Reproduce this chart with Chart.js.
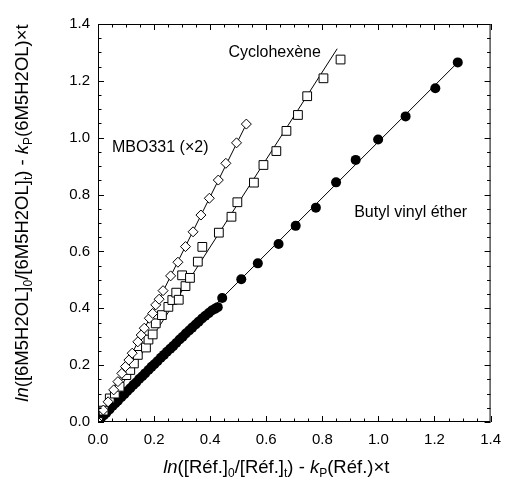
<!DOCTYPE html>
<html>
<head>
<meta charset="utf-8">
<script src="https://cdn.jsdelivr.net/npm/chart.js@4/dist/chart.umd.min.js"></script>
<style>
  body { margin: 0; background: #fff; }
</style>
</head>
<body>
<canvas id="chart" width="510" height="484"></canvas>
<script>
// Butyl vinyl éther (filled circles)
const butylX = [0.000, 0.010, 0.021, 0.030, 0.041, 0.052, 0.062, 0.071, 0.083, 0.094, 0.104, 0.115, 0.126, 0.136,
  0.147, 0.158, 0.168, 0.180, 0.191, 0.201, 0.212, 0.224, 0.235, 0.246, 0.258, 0.268, 0.279, 0.291, 0.302, 0.313,
  0.325, 0.336, 0.348, 0.359, 0.371, 0.383, 0.395, 0.406, 0.417, 0.427,
  0.443, 0.511, 0.570, 0.644, 0.705, 0.777, 0.849, 0.919, 0.999, 1.097, 1.203, 1.283];
const butylY = [0.000, 0.012, 0.024, 0.033, 0.044, 0.056, 0.066, 0.075, 0.087, 0.098, 0.108, 0.119, 0.130, 0.139,
  0.151, 0.161, 0.171, 0.183, 0.194, 0.203, 0.214, 0.226, 0.236, 0.247, 0.258, 0.267, 0.278, 0.290, 0.300, 0.311,
  0.322, 0.332, 0.343, 0.353, 0.364, 0.374, 0.383, 0.392, 0.398, 0.404,
  0.436, 0.502, 0.558, 0.626, 0.690, 0.754, 0.843, 0.922, 0.994, 1.075, 1.174, 1.265];

// Cyclohexène (open squares)
const cycloX = [0.000, 0.020, 0.042, 0.060, 0.077, 0.101, 0.115, 0.128, 0.142, 0.171, 0.180, 0.195, 0.206, 0.228,
  0.251, 0.265, 0.279, 0.288, 0.300, 0.312, 0.328, 0.356, 0.372, 0.431, 0.476, 0.497, 0.556, 0.590, 0.636, 0.672,
  0.713, 0.746, 0.804, 0.865];
const cycloY = [0.000, 0.040, 0.083, 0.100, 0.124, 0.165, 0.183, 0.206, 0.236, 0.262, 0.290, 0.308, 0.347, 0.376,
  0.405, 0.429, 0.455, 0.430, 0.516, 0.478, 0.507, 0.564, 0.616, 0.666, 0.722, 0.773, 0.842, 0.904, 0.953, 1.024,
  1.080, 1.146, 1.209, 1.275];

// MBO331 (×2) (open diamonds)
const mboX = [0.000, 0.019, 0.036, 0.056, 0.071, 0.085, 0.098, 0.110, 0.122, 0.142, 0.154, 0.165, 0.183, 0.195,
  0.206, 0.218, 0.232, 0.259, 0.285, 0.312, 0.339, 0.367, 0.397, 0.429, 0.456, 0.494, 0.529];
const mboY = [0.000, 0.042, 0.071, 0.113, 0.142, 0.171, 0.195, 0.218, 0.242, 0.282, 0.306, 0.330, 0.365, 0.382,
  0.412, 0.432, 0.462, 0.514, 0.562, 0.617, 0.669, 0.728, 0.787, 0.851, 0.910, 0.982, 1.048];

// fitted lines
const butylFitX = [0, 1.283];
const butylFitY = [0, 1.265];
const cycloFitX = [0, 0.853];
const cycloFitY = [0, 1.313];
const mboFitX = [0, 0.529];
const mboFitY = [0, 1.048];

const tickValues = [0, 0.2, 0.4, 0.6, 0.8, 1.0, 1.2, 1.4];

const seriesLabels = [
  { text: 'Cyclohexène', x: 0.630, y: 1.298 },
  { text: 'MBO331 (×2)', x: 0.222, y: 0.964 },
  { text: 'Butyl vinyl éther', x: 1.115, y: 0.735 }
];

const FONT = '"Liberation Sans", Arial, Helvetica, sans-serif';

const pts = (xs, ys) => xs.map((x, i) => ({ x: x, y: ys[i] }));

const xTitle = [
  { t: 'ln', i: true }, { t: '([Réf.]' }, { t: '0', s: true }, { t: '/[Réf.]' }, { t: 't', s: true },
  { t: ') - ' }, { t: 'k', i: true }, { t: 'P', s: true }, { t: '(Réf.)×t' }
];
const yTitle = [
  { t: 'ln', i: true }, { t: '([6M5H2OL]' }, { t: '0', s: true }, { t: '/[6M5H2OL]' }, { t: 't', s: true },
  { t: ') - ' }, { t: 'k', i: true }, { t: 'P', s: true }, { t: '(6M5H2OL)×t' }
];

function segFont(seg, size) {
  const sz = seg.s ? Math.round(size * 0.65) : size;
  return (seg.i ? 'italic ' : '') + sz + 'px ' + FONT;
}

function drawRich(ctx, segs, x, y, rot, size) {
  ctx.save();
  ctx.translate(x, y);
  ctx.rotate(rot);
  ctx.textBaseline = 'middle';
  ctx.textAlign = 'left';
  ctx.fillStyle = '#000';
  let total = 0;
  segs.forEach(seg => { ctx.font = segFont(seg, size); total += ctx.measureText(seg.t).width; });
  let cx = -total / 2;
  segs.forEach(seg => {
    ctx.font = segFont(seg, size);
    ctx.fillText(seg.t, cx, seg.s ? size * 0.32 : 0);
    cx += ctx.measureText(seg.t).width;
  });
  ctx.restore();
}

const framePlugin = {
  id: 'frame',
  afterDraw(chart) {
    const { ctx, chartArea: a, scales } = chart;
    ctx.save();
    ctx.strokeStyle = '#000';
    ctx.lineWidth = 1;
    ctx.strokeRect(a.left + 0.5, a.top + 0.5, a.right - a.left - 1, a.bottom - a.top - 1);
    // inward ticks on all four sides
    ctx.beginPath();
    for (let i = 0; i <= 28; i++) {
      const v = i * 0.05;
      const len = i % 4 === 0 ? 6 : 3.5;
      const px = Math.round(scales.x.getPixelForValue(v)) + 0.5;
      const py = Math.round(scales.y.getPixelForValue(v)) + 0.5;
      ctx.moveTo(px, a.bottom); ctx.lineTo(px, a.bottom - len);
      ctx.moveTo(px, a.top); ctx.lineTo(px, a.top + len);
      ctx.moveTo(a.left, py); ctx.lineTo(a.left + len, py);
      ctx.moveTo(a.right, py); ctx.lineTo(a.right - len, py);
    }
    ctx.stroke();
    ctx.restore();

    ctx.save();
    ctx.fillStyle = '#000';
    ctx.font = '16px ' + FONT;
    ctx.textAlign = 'center';
    ctx.textBaseline = 'middle';
    seriesLabels.forEach(l => {
      ctx.fillText(l.text, scales.x.getPixelForValue(l.x), scales.y.getPixelForValue(l.y));
    });
    ctx.restore();

    drawRich(ctx, xTitle, (a.left + a.right) / 2 - 18, 468, 0, 18.5);
    drawRich(ctx, yTitle, 23, (a.top + a.bottom) / 2 - 10, -Math.PI / 2, 18.5);
  }
};

const axisCommon = {
  type: 'linear',
  min: 0,
  max: 1.4,
  grid: { display: false, drawTicks: false },
  border: { display: false },
  afterBuildTicks: scale => { scale.ticks = tickValues.map(v => ({ value: v })); },
  ticks: {
    color: '#000',
    font: { family: FONT, size: 15 },
    callback: v => v.toFixed(1)
  }
};

new Chart(document.getElementById('chart'), {
  type: 'scatter',
  data: {
    datasets: [
      {
        label: 'MBO331 (×2)',
        data: pts(mboX, mboY),
        pointStyle: 'rectRot',
        pointRadius: 5,
        backgroundColor: '#fff',
        borderColor: '#000',
        borderWidth: 1
      },
      {
        label: 'Cyclohexène',
        data: pts(cycloX, cycloY),
        pointStyle: 'rect',
        pointRadius: 6.2,
        backgroundColor: '#fff',
        borderColor: '#000',
        borderWidth: 1
      },
      {
        label: 'Butyl vinyl éther',
        data: pts(butylX, butylY),
        pointStyle: 'circle',
        pointRadius: 5,
        backgroundColor: '#000',
        borderColor: '#000',
        borderWidth: 0
      },
      {
        label: 'fit MBO331',
        data: pts(mboFitX, mboFitY),
        showLine: true,
        borderColor: '#000',
        borderWidth: 1,
        pointRadius: 0
      },
      {
        label: 'fit Cyclohexène',
        data: pts(cycloFitX, cycloFitY),
        showLine: true,
        borderColor: '#000',
        borderWidth: 1,
        pointRadius: 0
      },
      {
        label: 'fit Butyl vinyl éther',
        data: pts(butylFitX, butylFitY),
        showLine: true,
        borderColor: '#000',
        borderWidth: 1,
        pointRadius: 0
      }
    ]
  },
  options: {
    responsive: false,
    animation: false,
    layout: { padding: { top: 24, right: 13, left: 0, bottom: 0 } },
    plugins: { legend: { display: false }, tooltip: { enabled: false } },
    scales: {
      x: Object.assign({}, axisCommon, {
        afterFit: scale => { scale.height = 62; },
        ticks: Object.assign({}, axisCommon.ticks, { padding: 9 })
      }),
      y: Object.assign({}, axisCommon, {
        afterFit: scale => { scale.width = 98; },
        ticks: Object.assign({}, axisCommon.ticks, { padding: 8 })
      })
    }
  },
  plugins: [framePlugin]
});
</script>
</body>
</html>
